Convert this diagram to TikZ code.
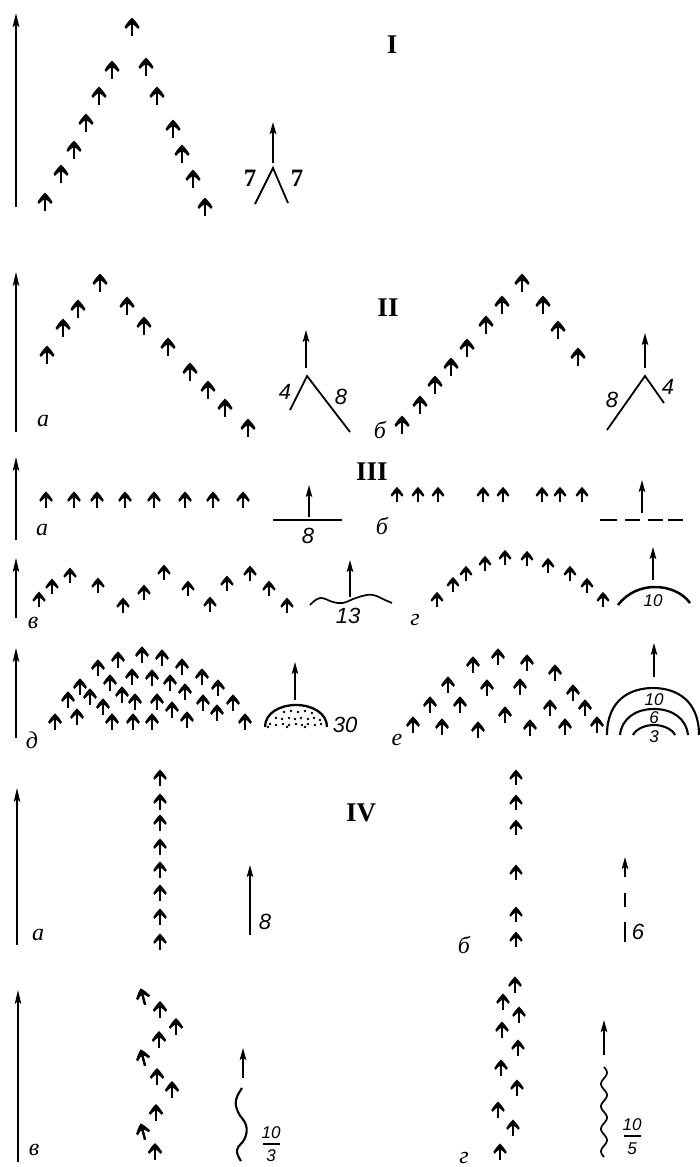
\documentclass[tikz,border=0pt]{standalone}
\usepackage{fontspec}
\setmainfont{Liberation Serif}
\setsansfont{Liberation Sans}
\usetikzlibrary{arrows.meta}
\tikzset{
  bird/.pic={
    \draw[line width=2.5pt] (0,8.5) -- (0,-4);
    \fill (0,-9.5) .. controls (-3,-6.5) and (-5.5,-3.5) .. (-7.5,0) -- (-6,2) .. controls (-4,-0.5) and (-2,-2) .. (0,-3) .. controls (2,-2) and (4,-0.5) .. (6,2) -- (7.5,0) .. controls (5.5,-3.5) and (3,-6.5) .. (0,-9.5) -- cycle;
  },
  bigarr/.style={line width=1.8pt, -{Stealth[length=14pt,width=6.5pt,inset=3pt]}},
  symarr/.style={line width=1.8pt, -{Stealth[length=12pt,width=6.5pt,inset=2.5pt]}},
  symline/.style={line width=1.8pt},
  lbl/.style={font=\fontsize{24}{24}\selectfont\itshape, inner sep=0pt},
  num/.style={font=\fontsize{22}{22}\selectfont\sffamily\itshape, inner sep=0pt},
  smallnum/.style={font=\fontsize{17}{17}\selectfont\sffamily\itshape, inner sep=0pt},
  seven/.style={font=\fontsize{25}{25}\selectfont\bfseries, inner sep=0pt},
  roman/.style={font=\fontsize{27}{27}\selectfont\bfseries, inner sep=0pt},
}
\begin{document}
\begin{tikzpicture}[x=1pt,y=-1pt]
\fill[white] (0,0) rectangle (700,1167);
\useasboundingbox (0,0) rectangle (700,1167);

% ---------------- I ----------------
\draw[bigarr, line width=2.6pt] (16,207) -- (16,13);
\foreach \x/\y in {45/202,61/174,74/150,86/123,99/96,112/70,132/27,146/67,157/96,173/129,182/154,193/179,205/207}
  \pic at (\x,\y) {bird};
\node[roman] (rI) at (392,45) {I};
\draw[symarr, line width=2.2pt] (273,163) -- (273,122);
\draw[symline] (255,204) -- (273,168) -- (288,203);
\node[seven] (s7a) at (250,178) {7};
\node[seven] (s7b) at (297,178) {7};

% ---------------- II ----------------
\draw[bigarr] (16,432) -- (16,272);
\foreach \x/\y in {47/355,63/328,78/309,100/283,127/306,144/326,168/347,190/372,208/390,225/408,248/428}
  \pic at (\x,\y) {bird};
\node[lbl] (la2) at (43,421) {а};
\node[roman] (rII) at (388,308) {II};
\draw[symarr] (306,368) -- (306,330);
\draw[symline] (290,410) -- (307,376) -- (350,432);
\node[num] (n4a) at (285,392) {4};
\node[num] (n8a) at (341,397) {8};

\foreach \x/\y in {402/425,420/405,435/385,451/367,467/348,486/325,502/305,522/283,543/305,558/330,578/357}
  \pic at (\x,\y) {bird};
\node[lbl] (lb2) at (380,430) {б};
\draw[symarr] (645,368) -- (645,333);
\draw[symline] (607,430) -- (645,376) -- (664,403);
\node[num] (n8b) at (612,400) {8};
\node[num] (n4b) at (668,387) {4};

% ---------------- III ----------------
\node[roman] (rIII) at (372,472) {III};
% a
\draw[bigarr] (16,540) -- (16,457);
\foreach \x in {46,74,97,125,154,185,213,243}
  \pic[scale=0.9] at (\x,500) {bird};
\node[lbl] (la3) at (42,530) {а};
\draw[symarr] (309,517) -- (309,485);
\draw[symline] (273,520) -- (342,520);
\node[num] (n8c) at (308,536) {8};
% b
\foreach \x in {397,418,438,483,503,542,560,582}
  \pic[scale=0.85] at (\x,495) {bird};
\node[lbl] (lb3) at (382,526) {б};
\draw[symarr] (642,513) -- (642,480);
\foreach \a/\b in {600/617,625/640,648/663,668/683}
  \draw[line width=1.6pt] (\a,520) -- (\b,520);
% v
\draw[bigarr] (16,618) -- (16,558);
\foreach \x/\y in {39/600,52/587,70/576,98/586,123/606,144/593,164/573,188/589,210/605,227/584,250/574,269/589,287/606}
  \pic[scale=0.88] at (\x,\y) {bird};
\node[lbl] (lv3) at (33,623) {в};
\draw[line width=1.7pt] plot[smooth, tension=0.7] coordinates {(310,605) (320,598) (333,602) (343,603) (353,599) (362,596) (373,595) (385,600) (392,603)};
\draw[symarr] (350,597) -- (350,560);
\node[num] (n13) at (348,616) {13};
% g
\foreach \x/\y in {437/600,453/585,466/574,485/564,505/558,527/559,548/566,570/574,587/586,603/600}
  \pic[scale=0.85] at (\x,\y) {bird};
\node[lbl] (lg3) at (415,620) {г};
\draw[line width=2.5pt] (618,605) .. controls (628,592) and (642,587) .. (655,587) .. controls (668,587) and (682,592) .. (690,603);
\draw[symarr] (653,580) -- (653,547);
\node[smallnum] (n10a) at (653,601) {10};
% d
\draw[bigarr] (16,738) -- (16,648);
\foreach \x/\y in {55/722,77/717,68/700,80/687,90/697,98/668,110/683,103/707,112/722,118/660,122/695,133/722,132/677,135/702,142/655,152/678,157/702,152/722,162/658,170/683,172/710,182/667,185/692,187/720,202/677,203/703,218/688,217/713,233/703,245/722}
  \pic[scale=0.92] at (\x,\y) {bird};
\node[lbl] (ld3) at (32,740) {д};
\draw[line width=2.3pt] (265,727) .. controls (265,713) and (280,705) .. (296,705) .. controls (312,705) and (327,713) .. (327,727);
\foreach \x/\y in {284/712,291/711,298/712,305/711,312/713,276/718,282/719,289/718,295/719,301/718,308/719,314/718,320/720,270/724,276/725,283/724,289/725,296/724,302/725,308/724,315/725,321/724,268/727,287/727,305/727}
  \fill (\x,\y) circle (1.3);
\draw[symarr] (295,700) -- (295,662);
\node[num] (n30) at (345,725) {30};
% e
\foreach \x/\y in {413/725,442/727,478/730,530/728,565/727,597/725,430/705,460/705,505/715,550/708,585/708,448/685,487/688,520/687,573/693,473/665,498/657,527/663,555/673}
  \pic[scale=0.92] at (\x,\y) {bird};
\node[lbl] (le3) at (397,740) {е};
\draw[line width=2.1pt] (607,735) .. controls (607,700) and (630,688) .. (653,688) .. controls (676,688) and (699,700) .. (699,735);
\draw[line width=2.1pt] (620,735) .. controls (622,718) and (636,709) .. (654,709) .. controls (672,709) and (686,718) .. (688,735);
\draw[line width=2.1pt] (633,735) .. controls (636,729) and (645,725) .. (654,725) .. controls (663,725) and (672,729) .. (675,735);
\draw[symarr] (654,677) -- (654,643);
\node[smallnum] (n10b) at (654,700) {10};
\node[smallnum] (n6) at (654,718) {6};
\node[smallnum] (n3) at (654,737) {3};

% ---------------- IV ----------------
\node[roman] (rIV) at (361,813) {IV};
% a
\draw[bigarr] (17,945) -- (17,788);
\foreach \y in {778,802,823,847,870,893,917,942}
  \pic[scale=0.9] at (160,\y) {bird};
\node[lbl] (la4) at (38,935) {а};
\draw[symarr] (250,935) -- (250,865);
\node[num] (n8d) at (265,922) {8};
% b
\foreach \y in {778,803,828,873,915,940}
  \pic[scale=0.88] at (516,\y) {bird};
\node[lbl] (lb4) at (464,945) {б};
\draw[symarr] (625,877) -- (625,857);
\draw[line width=1.6pt] (625,893) -- (625,907);
\draw[line width=1.6pt] (625,922) -- (625,942);
\node[num] (n6b) at (638,932) {6};
% v
\draw[bigarr] (18,1162) -- (18,990);
\foreach \x/\y/\r in {143/997/15,160/1010/0,176/1027/0,159/1040/0,143/1058/15,157/1077/0,172/1090/0,156/1113/0,143/1132/15,155/1152/0}
  \pic[scale=0.95, rotate=\r] at (\x,\y) {bird};
\node[lbl] (lv4) at (34,1150) {в};
\draw[symarr, line width=2.2pt] (243,1078) -- (243,1048);
\draw[line width=2.1pt] plot[smooth, tension=0.7] coordinates {(242,1088) (236,1100) (238,1112) (246,1125) (245,1138) (237,1150) (241,1161)};
\node[smallnum] (f1a) at (271,1133) {10};
\draw[line width=1.3pt] (263,1144) -- (280,1144);
\node[smallnum] (f1b) at (271,1156) {3};
% g
\foreach \x/\y in {515/985,503/1002,519/1015,502/1030,518/1048,501/1068,517/1088,498/1110,513/1128,500/1152}
  \pic[scale=0.9] at (\x,\y) {bird};
\node[lbl] (lg4) at (464,1158) {г};
\draw[symarr, line width=2.2pt] (604,1055) -- (604,1020);
\draw[line width=1.7pt] plot[domain=0:90, samples=80, smooth] ({604+3*sin(\x*16)},{1067+\x});
\node[smallnum] (f2a) at (632,1125) {10};
\draw[line width=1.3pt] (624,1136) -- (641,1136);
\node[smallnum] (f2b) at (632,1149) {5};
\end{tikzpicture}
\end{document}
